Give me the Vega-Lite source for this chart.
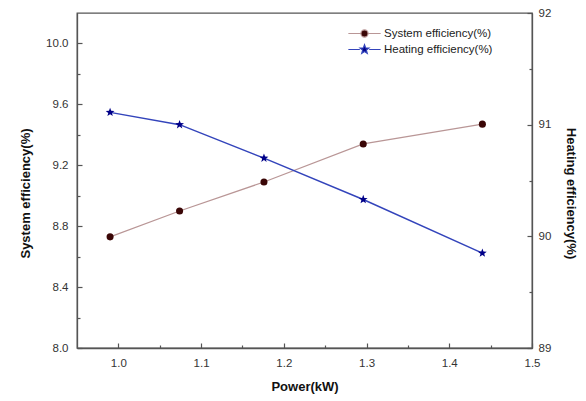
{
  "$schema": "https://vega.github.io/schema/vega-lite/v6.json",
  "width": 455,
  "height": 335,
  "autosize": "none",
  "padding": {"left": 77, "top": 13, "right": 54, "bottom": 53},
  "config": {
    "font": "Liberation Sans",
    "view": {"stroke": "#555555", "strokeWidth": 1.3},
    "axis": {
      "grid": false,
      "domainColor": "#555555",
      "domainWidth": 1.3,
      "tickColor": "#555555",
      "tickWidth": 1.2,
      "labelFont": "Liberation Sans",
      "labelFontSize": 11.5,
      "labelColor": "#333333",
      "labelOverlap": false,
      "labelFlush": false,
      "titleFont": "Liberation Sans",
      "titleFontSize": 13,
      "titleFontWeight": "bold",
      "titleColor": "#111111"
    }
  },
  "data": {
    "values": [
      {"power": 0.99, "series": "System efficiency(%)", "value": 8.73},
      {"power": 1.074, "series": "System efficiency(%)", "value": 8.9},
      {"power": 1.176, "series": "System efficiency(%)", "value": 9.09},
      {"power": 1.296, "series": "System efficiency(%)", "value": 9.34},
      {"power": 1.44, "series": "System efficiency(%)", "value": 9.47},
      {"power": 0.99, "series": "Heating efficiency(%)", "value": 91.11},
      {"power": 1.074, "series": "Heating efficiency(%)", "value": 91.0},
      {"power": 1.176, "series": "Heating efficiency(%)", "value": 90.7},
      {"power": 1.296, "series": "Heating efficiency(%)", "value": 90.33},
      {"power": 1.44, "series": "Heating efficiency(%)", "value": 89.85}
    ]
  },
  "encoding": {
    "x": {
      "field": "power", "type": "quantitative",
      "scale": {"domain": [0.95, 1.5], "nice": false, "zero": false},
      "axis": {
        "title": "Power(kW)",
        "orient": "bottom",
        "values": [1.0, 1.05, 1.1, 1.15, 1.2, 1.25, 1.3, 1.35, 1.4, 1.45, 1.5],
        "labelExpr": "round(datum.value*100) % 10 == 0 ? format(datum.value, '.1f') : ''",
        "tickSize": {"condition": {"test": "round(datum.value*100) % 10 == 0", "value": -5}, "value": -3},
        "labelPadding": 14,
        "titleY": 38,
        "titleBaseline": "middle"
      }
    }
  },
  "layer": [
    {
      "transform": [{"filter": "datum.series === 'System efficiency(%)'"}],
      "encoding": {
        "y": {
          "field": "value", "type": "quantitative",
          "scale": {"domain": [8.0, 10.2], "nice": false, "zero": false},
          "axis": {
            "title": "System efficiency(%)",
            "orient": "left",
            "values": [8.0, 8.2, 8.4, 8.6, 8.8, 9.0, 9.2, 9.4, 9.6, 9.8, 10.0],
            "labelExpr": "round(datum.value*10) % 4 == 0 ? format(datum.value, '.1f') : ''",
            "tickSize": {"condition": {"test": "round(datum.value*10) % 4 == 0", "value": -5}, "value": -3},
            "labelPadding": 14,
            "titleX": -52,
            "titleY": 180,
            "titleAlign": "center",
            "titleBaseline": "middle",
            "titleAngle": -90
          }
        }
      },
      "layer": [
        {"mark": {"type": "line", "color": "#b99696", "strokeWidth": 1.2}, "encoding": {}},
        {
          "mark": {"type": "point", "filled": true, "size": 50, "opacity": 1},
          "encoding": {
            "color": {
              "field": "series", "type": "nominal",
              "scale": {"domain": ["System efficiency(%)", "Heating efficiency(%)"], "range": ["#3a0606", "#000088"]},
              "legend": {
                "title": null,
                "orient": "none",
                "legendX": 278,
                "legendY": 11,
                "padding": 0,
                "rowPadding": 0,
                "symbolSize": 289,
                "symbolOpacity": 1,
                "symbolStrokeWidth": 1.2,
                "symbolType": {"expr": "datum.value === 'System efficiency(%)' ? 'M-1.9,0H-0.42M0.42,0H1.9M-0.42,0A0.42,0.42,0,1,1,0.42,0A0.42,0.42,0,1,1,-0.42,0Z' : 'M-1.9,0H-0.55M0.55,0H1.9M0,-0.55L0.135,-0.186L0.523,-0.17L0.219,0.071L0.323,0.445L0,0.23L-0.323,0.445L-0.219,0.071L-0.523,-0.17L-0.135,-0.186Z'"},
                "symbolStrokeColor": {"expr": "datum.value === 'System efficiency(%)' ? '#b99696' : '#3344bb'"},
                "labelOffset": 10,
                "labelFont": "Liberation Sans",
                "labelFontSize": 11.5,
                "labelColor": "#222222"
              }
            }
          }
        }
      ]
    },
    {
      "transform": [{"filter": "datum.series === 'Heating efficiency(%)'"}],
      "encoding": {
        "y": {
          "field": "value", "type": "quantitative",
          "scale": {"domain": [89, 92], "nice": false, "zero": false},
          "axis": {
            "title": "Heating efficiency(%)",
            "orient": "right",
            "values": [89, 89.5, 90, 90.5, 91, 91.5, 92],
            "labelExpr": "datum.value % 1 == 0 ? format(datum.value, 'd') : ''",
            "tickSize": {"condition": {"test": "datum.value % 1 == 0", "value": -5}, "value": -3},
            "labelPadding": 11,
            "titleX": 38,
            "titleY": 180,
            "titleAlign": "center",
            "titleBaseline": "middle",
            "titleAngle": 90
          }
        }
      },
      "layer": [
        {"mark": {"type": "line", "color": "#3344bb", "strokeWidth": 1.5}, "encoding": {}},
        {
          "mark": {"type": "point", "filled": true, "size": 85, "opacity": 1, "color": "#000088", "shape": "M0,-1L0.247,-0.34L0.951,-0.309L0.399,0.13L0.588,0.809L0,0.42L-0.588,0.809L-0.399,0.13L-0.951,-0.309L-0.247,-0.34Z"},
          "encoding": {}
        }
      ]
    }
  ],
  "resolve": {"scale": {"y": "independent"}}
}
